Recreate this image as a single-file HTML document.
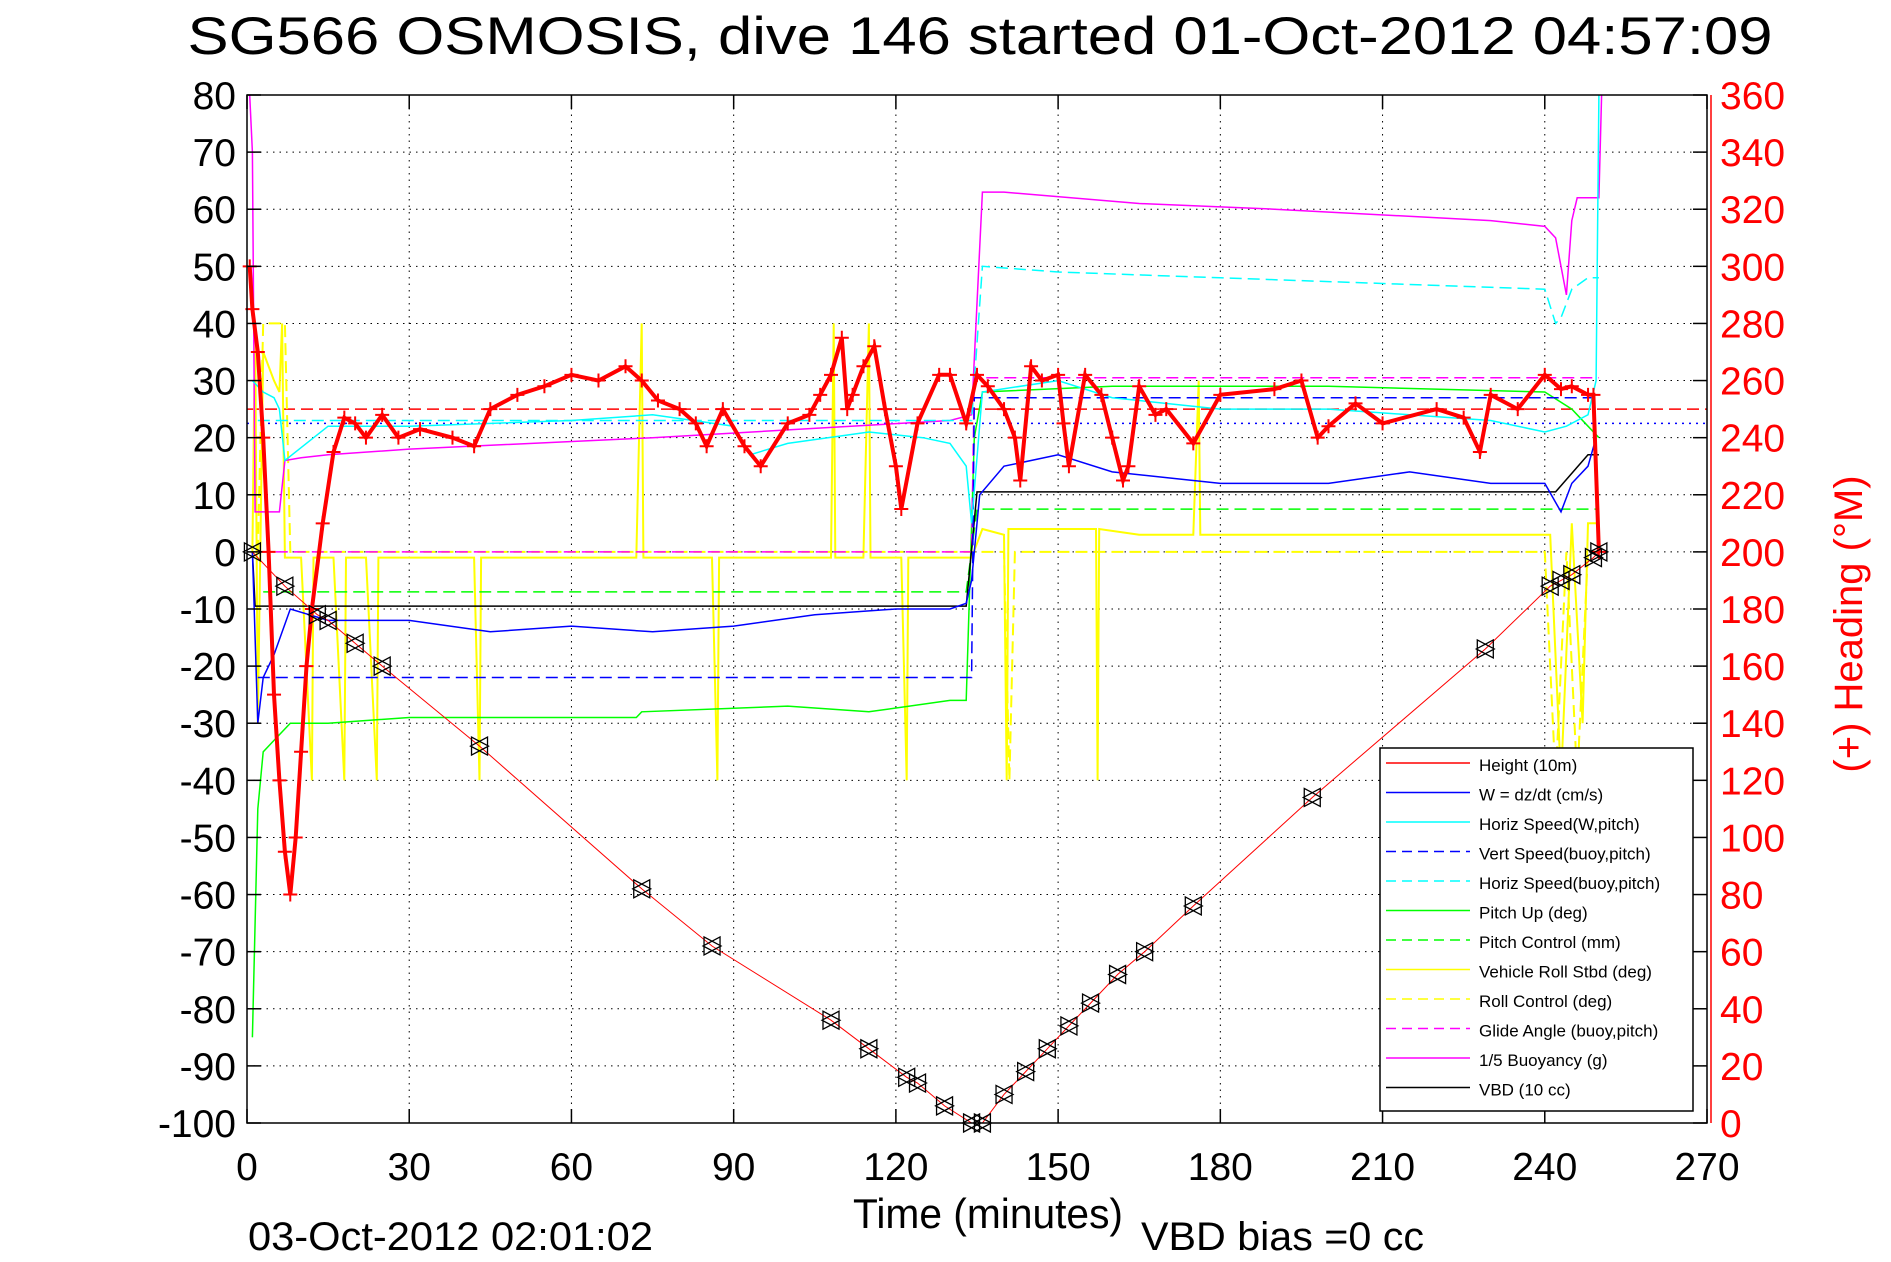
<!DOCTYPE html>
<html><head><meta charset="utf-8"><style>
html,body{margin:0;padding:0;background:#fff;}
svg{display:block;font-family:"Liberation Sans",sans-serif;}
</style></head><body>
<svg id="chart" width="1891" height="1262" viewBox="0 0 1891 1262" xmlns="http://www.w3.org/2000/svg">
<rect x="0" y="0" width="1891" height="1262" fill="#fff"/>
<text x="980" y="54" font-size="53" text-anchor="middle" textLength="1585" lengthAdjust="spacingAndGlyphs">SG566 OSMOSIS, dive 146 started 01-Oct-2012 04:57:09</text>
<g id="grid"></g>
<g id="series"></g>
<rect x="247" y="95" width="1460" height="1028" fill="none" stroke="#000" stroke-width="1.5"/>
<line x1="1711" y1="95" x2="1711" y2="1123" stroke="#f00" stroke-width="1.5"/>
<g id="axes"></g>
<g id="legend"></g>
<text x="853" y="1228" font-size="42" textLength="270" lengthAdjust="spacingAndGlyphs">Time (minutes)</text>
<text x="1141" y="1250" font-size="40" textLength="283" lengthAdjust="spacingAndGlyphs">VBD bias =0 cc</text>
<text x="248" y="1250" font-size="40" textLength="405" lengthAdjust="spacingAndGlyphs">03-Oct-2012 02:01:02</text>
<text transform="translate(1862,624) rotate(-90)" font-size="40" fill="#f00" text-anchor="middle">(+) Heading (°M)</text>
</svg>
<script>
const xTicks=[0,30,60,90,120,150,180,210,240,270];
const yTicks=[80,70,60,50,40,30,20,10,0,-10,-20,-30,-40,-50,-60,-70,-80,-90,-100];
const hTicks=[360,340,320,300,280,260,240,220,200,180,160,140,120,100,80,60,40,20,0];
const heightT=[1,7,13,15,20,25,43,73,86,108,115,122,124,129,134,136,140,144,148,152,156,161,166,175,197,229,241,243,245,249,250];
const heightV=[0,-6,-11,-12,-16,-20,-34,-59,-69,-82,-87,-92,-93,-97,-100,-100,-95,-91,-87,-83,-79,-74,-70,-62,-43,-17,-6,-5,-4,-1,0];
const wT=[1,2,3,5,8,15,30,45,60,75,90,105,120,130,133,134,135.5,140,150,160,170,180,200,215,230,240,243,245,248,249.5];
const wV=[0,-30,-22,-18,-10,-12,-12,-14,-13,-14,-13,-11,-10,-10,-9,-5,10,15,17,14,13,12,12,14,12,12,7,12,15,20];
const hsT=[1,3,5,6,7,15,30,60,75,90,93,100,115,125,130,133,134,136,150,160,180,200,230,240,244,248,249.5,250];
const hsV=[30,28,27,25,16,22,22,23,24,22,17,19,21,20,19,15,5,28,30,27,25,25,23,21,22,24,30,80];
const vsbT=[2,134,134.5,250];
const vsbV=[-22,-22,27,27];
const hsbT=[2,134,136,150,180,210,240,242,243,245,248,250];
const hsbV=[23,23,50,49,48,47,46,40,41,46,48,48];
const pitchT=[1,2,3,5,8,15,30,72,73,100,115,130,133,134.5,136,160,200,240,245,248,250];
const pitchV=[-85,-45,-35,-33,-30,-30,-29,-29,-28,-27,-28,-26,-26,20,28,29,29,28,25,22,20];
const pcT=[3,133,135,250];
const pcV=[-7,-7,7.5,7.5];
const rollT=[1,1.5,2,3,5,6,6.5,7,8,10,12,12.3,14,16,18,18.3,20,22,24,24.3,30,40,42,43,43.3,60,72,73,73.3,86,87,87.3,108,108.5,108.8,114,115,115.3,121,122,122.3,130,134,136,140,140.5,140.8,150,157,157.3,157.6,165,175,176,176.3,197,200,229,230,241,243,245,247,248,250];
const rollV=[0,40,-30,35,30,28,40,-1,-1,-1,-40,-1,-1,-1,-40,-1,-1,-1,-40,-1,-1,-1,-1,-40,-1,-1,-1,40,-1,-1,-40,-1,-1,40,-1,-1,40,-1,-1,-40,-1,-1,-1,4,3,-40,4,4,4,-40,4,3,3,30,3,3,3,3,3,3,-40,5,-30,5,5];
const rcT=[2,3,7,8,134,136,140,141,142,150,155,200,240,242,244,246,248,250];
const rcV=[0,40,40,0,0,0,0,-40,0,0,0,0,0,-40,0,-40,0,0];
const glideT=[2,134,134.5,250];
const glideV=[0,0,30.5,30.5];
const buoyT=[0.5,1,1.5,6,7,10,15,30,75,130,134,136,140,165,190,230,240,242,243,244,245,246,250,250.5];
const buoyV=[80,70,7,7,16,16.5,17,18,20,23,24,63,63,61,60,58,57,55,50,45,58,62,62,80];
const vbdT=[1,1.5,133,135,241,242,248,250];
const vbdV=[0,-9.5,-9.5,10.5,10.5,10.5,17,17];
const refT=[0,270];
const refV=[25,25];
const blueDotT=[0,270];
const blueDotV=[22.5,22.5];
const headT=[0.5,1,2,3,4,5,6,7,8,9,10,11,12,14,16,18,20,22,25,28,32,38,42,45,50,55,60,65,70,73,76,80,83,85,88,92,95,100,104,106,108,110,111,112,114,116,118,120,121,124,128,130,133,135,137,140,142,143,145,147,150,151,152,155,158,160,162,163,165,168,170,175,180,190,195,198,200,205,210,220,225,228,230,235,240,243,245,248,249,250];
const headV=[300,285,270,240,200,150,120,95,80,100,130,160,180,210,235,247,245,240,248,240,243,240,237,250,255,258,262,260,265,260,253,250,245,237,250,237,230,245,248,255,262,275,250,255,265,272,250,230,215,245,262,262,245,262,258,250,240,225,265,260,262,245,230,262,255,240,225,230,258,248,250,238,255,257,260,240,244,252,245,250,247,235,255,250,262,257,258,255,255,200];
</script>
<script>
const NS='http://www.w3.org/2000/svg';
const X0=247,X1=1707,Y0=95,Y1=1123;
function sx(t){return X0+(t-0)/(270-0)*(X1-X0);}
function sy(v){return Y1-(v+100)/180*(Y1-Y0);}
function sh(h){return Y1-h/360*(Y1-Y0);}
function mk(tag,attrs,parent){const e=document.createElementNS(NS,tag);for(const k in attrs)e.setAttribute(k,attrs[k]);parent.appendChild(e);return e;}
const grid=document.getElementById('grid'),axes=document.getElementById('axes'),ser=document.getElementById('series'),leg=document.getElementById('legend');
xTicks.forEach(t=>{const x=sx(t);
 if(t>0&&t<270){const l=mk('line',{x1:x,y1:Y0,x2:x,y2:Y1,stroke:'#000','stroke-width':1,'stroke-dasharray':'1.5,5'},grid);
 
 }
 const a=mk('line',{x1:x,y1:Y0,x2:x,y2:Y0+14,stroke:'#000','stroke-width':1.5},axes);
 
 
 const b=mk('line',{x1:x,y1:Y1,x2:x,y2:Y1-14,stroke:'#000','stroke-width':1.5},axes);
 
 
 const tx=mk('text',{x:x,y:1180,'font-size':39,'text-anchor':'middle'},axes);tx.textContent=t;
 
 
});
yTicks.forEach(v=>{const y=sy(v);
 if(v>-100&&v<80){const l=mk('line',{x1:X0,y1:y,x2:X1,y2:y,stroke:'#000','stroke-width':1,'stroke-dasharray':'1.5,5'},grid);
 
 }
 const a=mk('line',{x1:X0,y1:y,x2:X0+14,y2:y,stroke:'#000','stroke-width':1.5},axes);
 
 
 const tx=mk('text',{x:236,y:y+14,'font-size':39,'text-anchor':'end'},axes);tx.textContent=v;
 
 
});
hTicks.forEach(h=>{const y=sh(h);
 const a=mk('line',{x1:X1-14,y1:y,x2:X1,y2:y,stroke:'#000','stroke-width':1.5},axes);
 
 
 const tx=mk('text',{x:1720,y:y+14,'font-size':39,fill:'#f00'},axes);tx.textContent=h;
 
 
});
function line(T,V,color,dash,name,w){
 const d=T.map((t,i)=>(i?'L':'M')+sx(t).toFixed(1)+','+sy(V[i]).toFixed(1)).join('');
 const p=mk('path',{d:d,fill:'none',stroke:color,'stroke-width':w||1.5},ser);
 if(dash)p.setAttribute('stroke-dasharray',dash);
 
 
}
line(refT,refV,'#f00','12,6','heading-target-line');
line(blueDotT,blueDotV,'#00f','2,5','blue-dotted-reference');
line(rcT,rcV,'#ff0','12,6','roll-control-line',2);
line(rollT,rollV,'#ff0',null,'vehicle-roll-line',2);
line(pcT,pcV,'#0f0','12,6','pitch-control-line');
line(pitchT,pitchV,'#0f0',null,'pitch-up-line');
line(glideT,glideV,'#f0f','12,6','glide-angle-line');
line(vbdT,vbdV,'#000',null,'vbd-line');
line(buoyT,buoyV,'#f0f',null,'buoyancy-line');
line(hsbT,hsbV,'#0ff','12,6','horiz-speed-buoy-line');
line(vsbT,vsbV,'#00f','12,6','vert-speed-buoy-line');
line(hsT,hsV,'#0ff',null,'horiz-speed-line');
line(wT,wV,'#00f',null,'w-line');
line(heightT,heightV,'#f00',null,'height-line',1);
const hd=headT.map((t,i)=>(i?'L':'M')+sx(t).toFixed(1)+','+sh(headV[i]).toFixed(1)).join('');
const hp=mk('path',{d:hd,fill:'none',stroke:'#f00','stroke-width':4},ser);


headT.forEach((t,i)=>{const x=sx(t),y=sh(headV[i]);
 const m=mk('path',{d:`M${x-7},${y}h14M${x},${y-7}v14`,stroke:'#f00','stroke-width':2},ser);
 
 
});
heightT.forEach((t,i)=>{const x=sx(t),y=sy(heightV[i]);
 const m=mk('path',{d:`M${x-8},${y-9}L${x+9},${y}L${x-8},${y+9}ZM${x+8},${y-9}L${x-9},${y}L${x+8},${y+9}Z`,fill:'none',stroke:'#000','stroke-width':1.3},ser);
 
 
});
const box=mk('rect',{x:1380,y:748,width:313,height:363,fill:'#fff',stroke:'#000','stroke-width':1.5},leg);


const legItems=[['Height (10m)','#f00',null],['W = dz/dt (cm/s)','#00f',null],['Horiz Speed(W,pitch)','#0ff',null],['Vert Speed(buoy,pitch)','#00f','10,6'],['Horiz Speed(buoy,pitch)','#0ff','10,6'],['Pitch Up (deg)','#0f0',null],['Pitch Control (mm)','#0f0','10,6'],['Vehicle Roll Stbd (deg)','#ff0',null],['Roll Control (deg)','#ff0','10,6'],['Glide Angle (buoy,pitch)','#f0f','10,6'],['1/5 Buoyancy (g)','#f0f',null],['VBD (10 cc)','#000',null]];
legItems.forEach((it,i)=>{const y=767+i*29.5;
 const g=mk('g',{},leg);
 
 
 const l=mk('line',{x1:1386,y1:y-4,x2:1470,y2:y-4,stroke:it[1],'stroke-width':1.5},g);
 if(it[2])l.setAttribute('stroke-dasharray',it[2]);
 const tx=mk('text',{x:1479,y:y+4,'font-size':17},g);tx.textContent=it[0];
});
</script>
</body></html>
